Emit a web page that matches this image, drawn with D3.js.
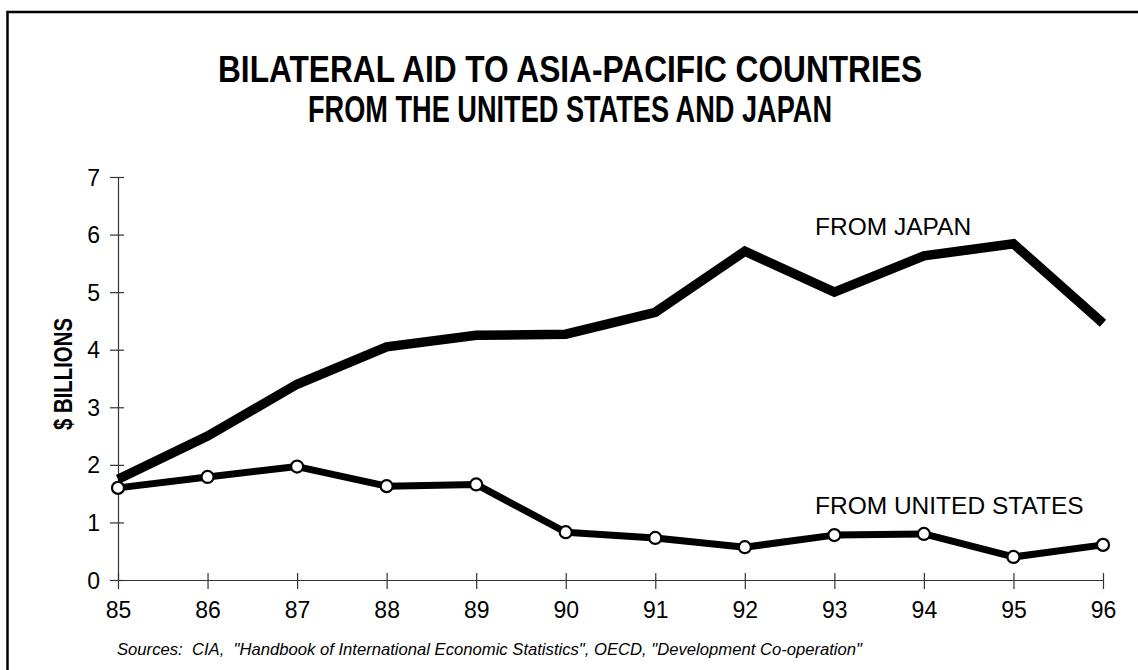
<!DOCTYPE html>
<html>
<head>
<meta charset="utf-8">
<script src="https://cdn.jsdelivr.net/npm/d3@7"></script>
<style>
  html, body { margin: 0; padding: 0; background: #fff; }
  svg { display: block; font-family: "Liberation Sans", Arial, sans-serif; }
</style>
</head>
<body>
<svg id="chart" width="1138" height="670"></svg>
<script>
const years = [85, 86, 87, 88, 89, 90, 91, 92, 93, 94, 95, 96];
const japan = [1.75, 2.5, 3.4, 4.05, 4.25, 4.27, 4.65, 5.71, 5.0, 5.63, 5.84, 4.46];
const unitedStates = [1.6, 1.79, 1.97, 1.63, 1.66, 0.83, 0.73, 0.57, 0.78, 0.8, 0.4, 0.61];
const yTicks = [0, 1, 2, 3, 4, 5, 6, 7];
const titleLines = ["BILATERAL AID TO ASIA-PACIFIC COUNTRIES", "FROM THE UNITED STATES AND JAPAN"];
const yLabel = "$ BILLIONS";
const seriesLabels = ["FROM JAPAN", "FROM UNITED STATES"];
const sourceText = 'Sources:  CIA,  "Handbook of International Economic Statistics", OECD, "Development Co-operation"';

const svg = d3.select("#chart");
const FONT = "Liberation Sans, Arial, sans-serif";

// frame
svg.append("rect").attr("x", 7.5).attr("y", 12).attr("width", 1140).attr("height", 680)
  .attr("fill", "none").attr("stroke", "#000").attr("stroke-width", 2.5);

const x = d3.scaleLinear().domain([85, 96]).range([118, 1103]);
const y = d3.scaleLinear().domain([0, 7]).range([580, 177]);

// title
const titleWidths = [704, 524];
const titleY = [82, 122];
titleLines.forEach((t, i) => {
  svg.append("text").attr("x", 570).attr("y", titleY[i])
    .attr("text-anchor", "middle").attr("font-weight", "bold").attr("font-size", 36)
    .attr("textLength", titleWidths[i]).attr("lengthAdjust", "spacingAndGlyphs")
    .text(t);
});

// axes
const yAxis = d3.axisLeft(y).tickValues(yTicks).tickSize(0).tickPadding(18).tickFormat(d3.format("d"));
const gy = svg.append("g").attr("transform", `translate(${x(85)},0)`).call(yAxis);
gy.attr("font-family", FONT).attr("font-size", 23);
gy.select(".domain").attr("stroke", "#333").attr("stroke-width", 1.2);
gy.selectAll(".tick line").attr("x1", -8).attr("x2", 6).attr("stroke", "#333").attr("stroke-width", 1.2);
gy.selectAll(".tick text").attr("fill", "#000").attr("dy", "0.35em");

const xAxis = d3.axisBottom(x).tickValues(years).tickSize(0).tickPadding(22).tickFormat(d3.format("d"));
const gx = svg.append("g").attr("transform", `translate(0,${y(0)})`).call(xAxis);
gx.attr("font-family", FONT).attr("font-size", 23);
gx.select(".domain").attr("stroke", "#333").attr("stroke-width", 1.2);
gx.selectAll(".tick line").attr("y1", -7).attr("y2", 9).attr("stroke", "#333").attr("stroke-width", 1.2);
gx.selectAll(".tick text").attr("fill", "#000");

// y label
svg.append("text").attr("transform", `translate(72,374) rotate(-90)`)
  .attr("text-anchor", "middle").attr("font-weight", "bold").attr("font-size", 26)
  .attr("textLength", 112).attr("lengthAdjust", "spacingAndGlyphs")
  .text(yLabel);

// lines
const line = d3.line().x((d, i) => x(years[i])).y(d => y(d));
svg.append("path").datum(japan).attr("d", line).attr("fill", "none")
  .attr("stroke", "#000").attr("stroke-width", 9.5).attr("stroke-linejoin", "miter");
svg.append("path").datum(unitedStates).attr("d", line).attr("fill", "none")
  .attr("stroke", "#000").attr("stroke-width", 7).attr("stroke-linejoin", "round");
svg.selectAll("circle.us").data(unitedStates).enter().append("circle").attr("class", "us")
  .attr("cx", (d, i) => x(years[i])).attr("cy", d => y(d)).attr("r", 6)
  .attr("fill", "#fff").attr("stroke", "#000").attr("stroke-width", 2.2);

// series labels
svg.append("text").attr("x", 815).attr("y", 235).attr("font-size", 24.5).text(seriesLabels[0]);
svg.append("text").attr("x", 815).attr("y", 514).attr("font-size", 24.5).text(seriesLabels[1]);

// source
svg.append("text").attr("x", 117).attr("y", 655).attr("font-size", 17).attr("font-style", "italic")
  .attr("textLength", 745).attr("lengthAdjust", "spacingAndGlyphs")
  .attr("xml:space", "preserve").style("white-space", "pre").text(sourceText);
</script>
</body>
</html>
